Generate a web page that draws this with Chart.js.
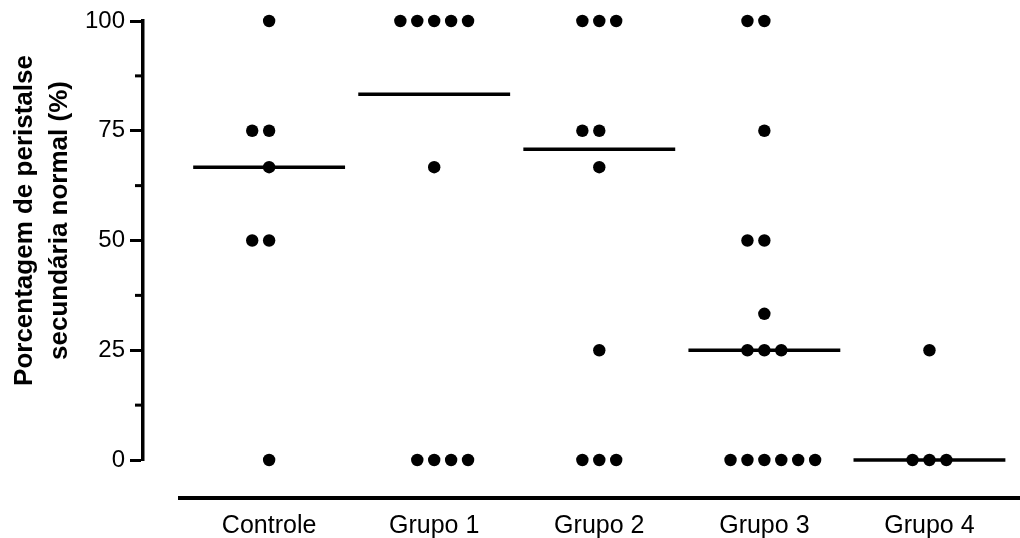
<!DOCTYPE html>
<html>
<head>
<meta charset="utf-8">
<script src="https://cdn.jsdelivr.net/npm/chart.js@4/dist/chart.umd.min.js"></script>
<style>
    html, body { margin: 0; padding: 0; background: #fff; }
</style>
</head>
<body>
<canvas id="chart" width="1020" height="538"></canvas>
<script>
// Data
const groups = ['Controle', 'Grupo 1', 'Grupo 2', 'Grupo 3', 'Grupo 4'];
const controle = [100, 75, 75, 66.7, 50, 50, 0];
const grupo1 = [100, 100, 100, 100, 100, 66.7, 0, 0, 0, 0];
const grupo2 = [100, 100, 100, 75, 75, 66.7, 25, 0, 0, 0];
const grupo3 = [100, 100, 75, 50, 50, 33.3, 25, 25, 25, 0, 0, 0, 0, 0, 0];
const grupo4 = [25, 0, 0, 0];
const medians = [66.7, 83.3, 70.8, 25, 0];
const yTicks = [0, 25, 50, 75, 100];
const yMinorTicks = [12.5, 37.5, 62.5, 87.5];
const yTitle = ['Porcentagem de peristalse', 'secundária normal (%)'];

const FONT = '"Liberation Sans", Arial, Helvetica, sans-serif';
const DOT_STEP = 0.1025;   // horizontal spacing of tied dots, in category units
const MEDIAN_HALF = 0.46;  // half width of median bar

// spread tied values side by side like a column scatter
function spread(values, index) {
    const counts = {};
    values.forEach(v => counts[v] = (counts[v] || 0) + 1);
    const seen = {};
    return values.map(v => {
        const n = counts[v];
        const start = n === 2 ? -1 : -Math.floor((n - 1) / 2);
        const k = seen[v] = (seen[v] === undefined ? 0 : seen[v] + 1);
        return { x: index + (start + k) * DOT_STEP, y: v };
    });
}

const series = [controle, grupo1, grupo2, grupo3, grupo4];

const dotSets = series.map((vals, i) => ({
    type: 'scatter',
    label: groups[i],
    data: spread(vals, i),
    pointRadius: 6.2,
    pointHoverRadius: 6.2,
    backgroundColor: '#000',
    borderWidth: 0,
    clip: false
}));

const medianSets = medians.map((m, i) => ({
    type: 'line',
    label: groups[i] + ' mediana',
    data: [{ x: i - MEDIAN_HALF, y: m }, { x: i + MEDIAN_HALF, y: m }],
    borderColor: '#000',
    borderWidth: 3.5,
    pointRadius: 0,
    fill: false,
    clip: false
}));

// minor ticks, detached baseline and rotated axis title
const axisExtras = {
    id: 'axisExtras',
    afterDraw(chart) {
        const { ctx, chartArea, scales: { y } } = chart;
        ctx.save();
        ctx.strokeStyle = '#000';
        ctx.lineWidth = 3;
        yMinorTicks.forEach(v => {
            const py = y.getPixelForValue(v);
            ctx.beginPath();
            ctx.moveTo(chartArea.left - 8, py);
            ctx.lineTo(chartArea.left, py);
            ctx.stroke();
        });

        const by = y.getPixelForValue(0) + 38;
        ctx.lineWidth = 4;
        ctx.beginPath();
        ctx.moveTo(178, by);
        ctx.lineTo(chart.width, by);
        ctx.stroke();

        ctx.fillStyle = '#000';
        ctx.font = 'bold 26px ' + FONT;
        ctx.textAlign = 'center';
        ctx.textBaseline = 'middle';
        ctx.translate(25, (chartArea.top + chartArea.bottom) / 2 - 20);
        ctx.rotate(-Math.PI / 2);
        yTitle.forEach((line, k) => ctx.fillText(line, 0, k * 35));
        ctx.restore();
    }
};

new Chart(document.getElementById('chart'), {
    data: { datasets: [...medianSets, ...dotSets] },
    options: {
        responsive: false,
        animation: false,
        layout: { padding: { top: 21, right: 0, bottom: 0, left: 0 } },
        plugins: {
            legend: { display: false },
            tooltip: { enabled: false }
        },
        scales: {
            x: {
                type: 'linear',
                min: -0.764,
                max: 4.511,
                afterBuildTicks: scale => { scale.ticks = groups.map((g, i) => ({ value: i })); },
                afterFit: scale => { scale.height = 78; },
                grid: { display: false },
                border: { display: false },
                ticks: {
                    autoSkip: false,
                    maxRotation: 0,
                    padding: 43,
                    color: '#000',
                    font: { family: FONT, size: 25 },
                    callback: value => groups[value]
                }
            },
            y: {
                type: 'linear',
                min: 0,
                max: 100,
                afterBuildTicks: scale => { scale.ticks = yTicks.map(v => ({ value: v })); },
                afterFit: scale => { scale.width = 143; },
                border: { display: true, color: '#000', width: 3.5 },
                grid: {
                    drawOnChartArea: false,
                    drawTicks: true,
                    tickLength: 13,
                    tickWidth: 3,
                    tickColor: '#000'
                },
                ticks: {
                    padding: 5,
                    color: '#000',
                    font: { family: FONT, size: 24 }
                }
            }
        }
    },
    plugins: [axisExtras]
});
</script>
</body>
</html>
